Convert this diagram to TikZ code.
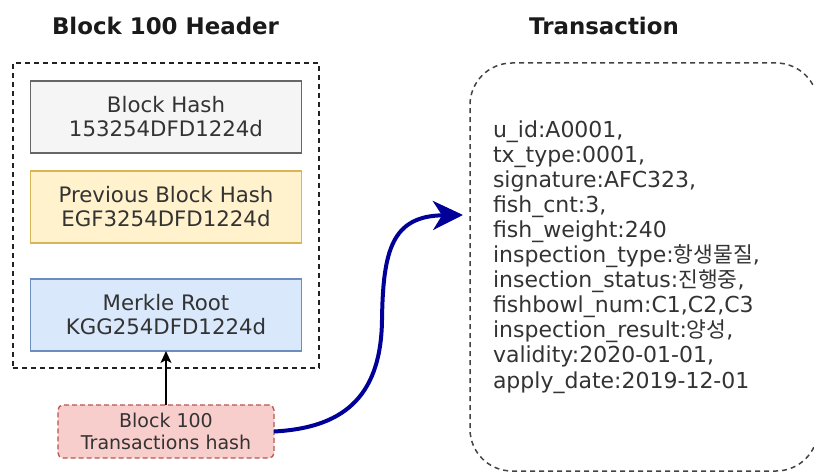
\documentclass[tikz,border=0pt]{standalone}
\usepackage{fontspec}
\setmainfont{DejaVu Sans}
\newfontfamily\krfont{Noto Sans CJK KR}
\usetikzlibrary{arrows.meta}
\newcommand\ko[1]{{\krfont\fontsize{21.5bp}{25bp}\selectfont #1}}

\definecolor{txtgray}{HTML}{333333}
\definecolor{titlegray}{HTML}{1A1A1A}
\definecolor{grayfill}{HTML}{F5F5F5}
\definecolor{grayline}{HTML}{666666}
\definecolor{yellowfill}{HTML}{FFF2CC}
\definecolor{yellowline}{HTML}{D6B656}
\definecolor{bluefill}{HTML}{DAE8FC}
\definecolor{blueline}{HTML}{6C8EBF}
\definecolor{redfill}{HTML}{F8CECC}
\definecolor{redline}{HTML}{B85450}
\definecolor{navy}{HTML}{000099}
\definecolor{frame}{HTML}{222222}

\begin{document}
\begin{tikzpicture}[x=1bp,y=-1bp,
  every node/.style={inner sep=0pt, outer sep=0pt, text=txtgray},
  title/.style={anchor=base, text=titlegray,
    font=\bfseries\fontsize{22.9bp}{27bp}\selectfont},
  hashbox/.style={draw, line width=1.5bp, minimum width=271bp,
    minimum height=72bp, align=center,
    font=\fontsize{21.3bp}{24bp}\selectfont},
  dashframe/.style={draw=frame, line width=1.5bp,
    dash pattern=on 5bp off 4bp},
  txline/.style={anchor=base west, font=\fontsize{22bp}{25bp}\selectfont}
]
\useasboundingbox (0,0) rectangle (814,472);

% titles
\node[title] (htitle) at (165.5,35) {Block 100 Header};
\node[title] (ttitle) at (604,35) {Transaction};

% block header frame and its fields
\node[dashframe, minimum width=306bp, minimum height=305bp] (header) at (166,215.5) {};
\node[hashbox, fill=grayfill, draw=grayline] (bhash) at (166,117)
  {Block Hash\\153254DFD1224d};
\node[hashbox, fill=yellowfill, draw=yellowline] (prev) at (166,207)
  {Previous Block Hash\\EGF3254DFD1224d};
\node[hashbox, fill=bluefill, draw=blueline] (merkle) at (166,315)
  {Merkle Root\\KGG254DFD1224d};

% transactions hash
\node[draw=redline, fill=redfill, line width=1.3bp, dash pattern=on 5bp off 3bp,
  rounded corners=5bp, minimum width=216bp, minimum height=53bp, align=center,
  font=\fontsize{19bp}{22bp}\selectfont] (txhash) at (166,431.5)
  {Block 100\\Transactions hash};

% transaction record
\node[dashframe, draw=frame!85, rounded corners=42bp,
  minimum width=348bp, minimum height=408bp] (tx) at (644,267) {};
\foreach \t [count=\i] in {
  {u\_id:A0001,},
  {tx\_type:0001,},
  {signature:AFC323,},
  {fish\_cnt:3,},
  {fish\_weight:240},
  {inspection\_type:\ko{항생물질},},
  {insection\_status:\ko{진행중},},
  {fishbowl\_num:C1,C2,C3},
  {inspection\_result:\ko{양성},},
  {validity:2020-01-01,},
  {apply\_date:2019-12-01}}
  \node[txline] (line\i) at ({493},{138+25*(\i-1)}) {\t};

% connectors
\draw[line width=1.3bp, draw=black, -{Stealth[length=12bp,width=11bp,inset=3bp]}]
  (txhash.north) -- (merkle.south);
\coordinate (txin) at (463,215);
\draw[navy, line width=4bp, -{Stealth[length=30bp,width=29bp,inset=9bp]}]
  (txhash.east) .. controls (340,428) and (381,400) .. (382,320)
  .. controls (383,250) and (392,216) .. (txin);
\end{tikzpicture}
\end{document}
